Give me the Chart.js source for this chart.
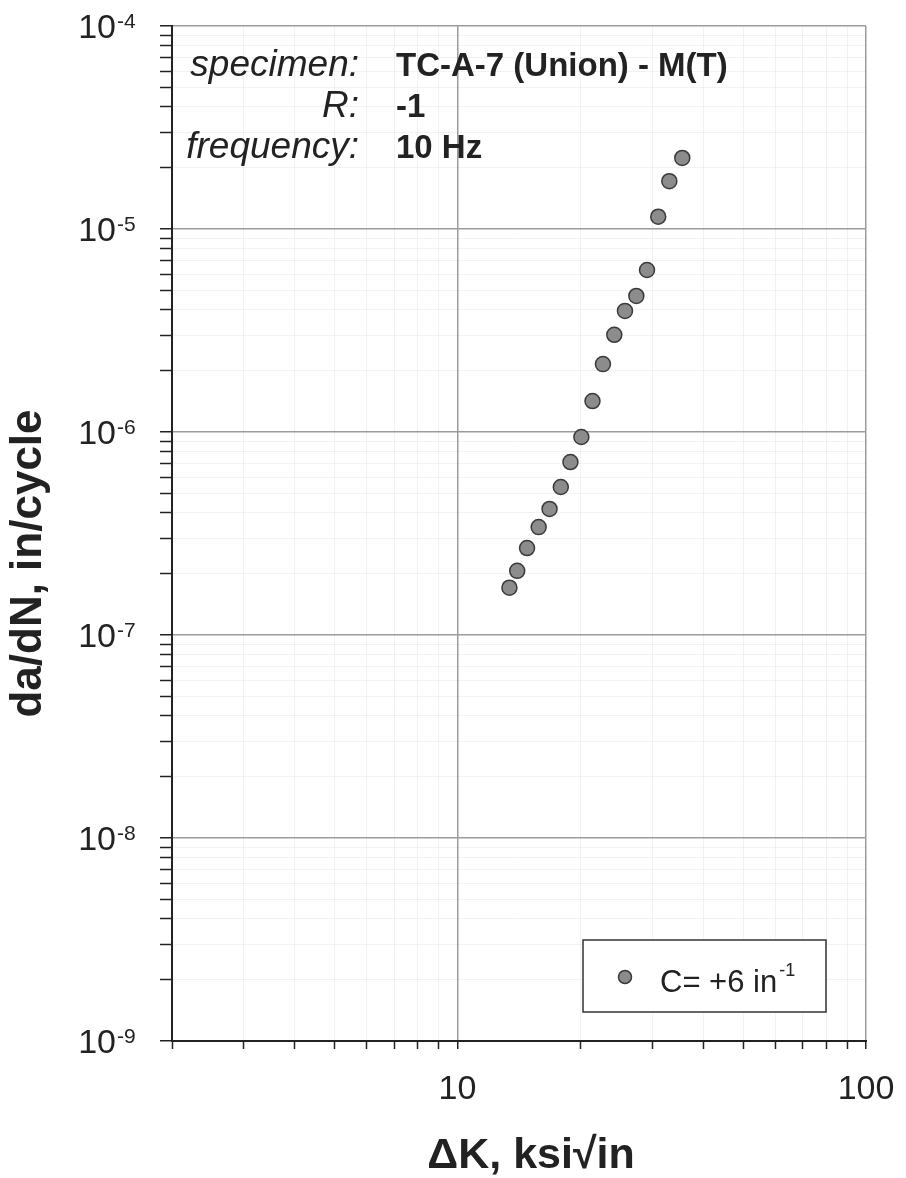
<!DOCTYPE html>
<html>
<head>
<meta charset="utf-8">
<title>da/dN vs delta K</title>
<script src="https://cdn.jsdelivr.net/npm/chart.js@4.4.0/dist/chart.umd.min.js"></script>
<style>
  html, body { margin: 0; padding: 0; background: #fff; }
  #wrap { position: relative; width: 906px; height: 1178px; }
</style>
</head>
<body>
<div id="wrap"><canvas id="crackChart"></canvas></div>
<script>
'use strict';
// values
var deltaK = [13.4, 14.0, 14.8, 15.8, 16.8, 17.9, 18.9, 20.1, 21.4, 22.7, 24.2, 25.7, 27.4, 29.1, 31.0, 33.0, 35.5];
var dadN = [1.71e-7, 2.07e-7, 2.68e-7, 3.40e-7, 4.18e-7, 5.36e-7, 7.11e-7, 9.45e-7, 1.42e-6, 2.16e-6, 3.01e-6, 3.95e-6, 4.68e-6, 6.28e-6, 1.15e-5, 1.72e-5, 2.24e-5];
var seriesLabel = 'C= +6 in';
var seriesLabelSup = '-1';
var xTickLabels = [10, 100];
var yTickExponents = [-9, -8, -7, -6, -5, -4];
var xRange = [2, 100];
var yRange = [1e-9, 1e-4];
var infoLabels = ['specimen:', 'R:', 'frequency:'];
var infoValues = ['TC-A-7 (Union) - M(T)', '-1', '10 Hz'];
var xTitle = 'ΔK, ksi√in';
var yTitle = 'da/dN, in/cycle';

var FONT = '"Liberation Sans", Arial, sans-serif';
var INK = '#222';
Chart.defaults.font.family = FONT;

// 1..9 x 10^n positions between min and max
function logTicks(min, max) {
  var list = [];
  for (var e = Math.floor(Math.log10(min)); Math.pow(10, e) <= max; e++) {
    for (var m = 1; m < 10; m++) {
      var v = parseFloat((m * Math.pow(10, e)).toPrecision(6));
      if (v >= min && v <= max) list.push(v);
    }
  }
  return list;
}
function isDecade(v) {
  var l = Math.log10(v);
  return Math.abs(l - Math.round(l)) < 1e-9;
}
function gridColor(ctx) {
  if (!ctx.tick) return 'rgba(0,0,0,0.05)';
  return isDecade(ctx.tick.value) ? '#9c9c9c' : 'rgba(0,0,0,0.05)';
}
function gridWidth(ctx) {
  return ctx.tick && isDecade(ctx.tick.value) ? 1.5 : 1;
}

var points = [];
for (var i = 0; i < deltaK.length; i++) {
  points.push({ x: deltaK[i], y: dadN[i] });
}

// labels with superscripts, titles, info block and legend box
var decorPlugin = {
  id: 'decor',
  afterDatasetsDraw: function(chart) {
    var ctx = chart.ctx;
    var area = chart.chartArea;
    var ds = chart.data.datasets[0];
    var bx = area.right - 283, by = area.bottom - 101, bw = 243, bh = 72;
    ctx.save();
    ctx.fillStyle = '#fff';
    ctx.fillRect(bx, by, bw, bh);
    ctx.strokeStyle = '#333';
    ctx.lineWidth = 1.5;
    ctx.strokeRect(bx, by, bw, bh);
    ctx.beginPath();
    ctx.arc(bx + 42, by + 37, 6.5, 0, Math.PI * 2);
    ctx.fillStyle = ds.backgroundColor;
    ctx.fill();
    ctx.lineWidth = ds.borderWidth;
    ctx.strokeStyle = ds.borderColor;
    ctx.stroke();
    ctx.fillStyle = INK;
    ctx.textAlign = 'left';
    ctx.textBaseline = 'alphabetic';
    ctx.font = '31px ' + FONT;
    ctx.fillText(seriesLabel, bx + 77, by + 52);
    var w = ctx.measureText(seriesLabel).width;
    ctx.font = '18px ' + FONT;
    ctx.fillText(seriesLabelSup, bx + 79 + w, by + 36);
    ctx.restore();
  },
  afterDraw: function(chart) {
    var ctx = chart.ctx;
    var area = chart.chartArea;
    var ys = chart.scales.y;
    ctx.save();
    ctx.fillStyle = INK;
    ctx.textBaseline = 'alphabetic';

    // y tick labels 10^n
    yTickExponents.forEach(function(p) {
      var py = ys.getPixelForValue(Math.pow(10, p));
      ctx.font = '34px ' + FONT;
      ctx.textAlign = 'right';
      ctx.fillText('10', area.left - 56, py + 12);
      ctx.font = '21px ' + FONT;
      ctx.textAlign = 'left';
      ctx.fillText(String(p), area.left - 55, py + 2);
    });

    // axis titles
    ctx.font = 'bold 43px ' + FONT;
    ctx.textAlign = 'center';
    ctx.fillText(xTitle, (area.left + area.right) / 2 + 12, chart.height - 10);
    ctx.font = 'bold 44px ' + FONT;
    ctx.save();
    ctx.translate(41, (area.top + area.bottom) / 2 + 30);
    ctx.rotate(-Math.PI / 2);
    ctx.fillText(yTitle, 0, 0);
    ctx.restore();

    // info block
    for (var k = 0; k < infoLabels.length; k++) {
      var base = area.top + 50 + k * 41;
      ctx.font = 'italic 37px ' + FONT;
      ctx.textAlign = 'right';
      ctx.fillText(infoLabels[k], area.left + 187, base);
      ctx.font = 'bold 33px ' + FONT;
      ctx.textAlign = 'left';
      ctx.fillText(infoValues[k], area.left + 224, base);
    }
    ctx.restore();
  }
};

var chart = new Chart(document.getElementById('crackChart').getContext('2d'), {
  type: 'scatter',
  data: {
    datasets: [{
      label: seriesLabel + seriesLabelSup,
      data: points,
      pointRadius: 7.5,
      pointHoverRadius: 7.5,
      backgroundColor: '#8c8c8c',
      borderColor: '#3a3a3a',
      borderWidth: 1.5
    }]
  },
  options: {
    responsive: true,
    maintainAspectRatio: false,
    animation: false,
    layout: { padding: { left: 0, top: 26, right: 40, bottom: 0 } },
    plugins: {
      legend: { display: false },
      tooltip: { enabled: false }
    },
    scales: {
      x: {
        type: 'logarithmic',
        min: xRange[0],
        max: xRange[1],
        afterBuildTicks: function(scale) {
          scale.ticks = logTicks(xRange[0], xRange[1]).map(function(v) {
            return { value: v, major: isDecade(v) };
          });
        },
        afterFit: function(scale) {
          scale.height = 137;
          scale.paddingLeft = 0;
          scale.paddingRight = 0;
        },
        border: { color: INK, width: 2 },
        grid: { color: gridColor, lineWidth: gridWidth, tickColor: INK, tickLength: 8, tickWidth: 1.5 },
        ticks: {
          autoSkip: false,
          maxRotation: 0,
          padding: 20,
          color: INK,
          font: { size: 34 },
          callback: function(v) { return xTickLabels.indexOf(v) >= 0 ? String(v) : ''; }
        }
      },
      y: {
        type: 'logarithmic',
        min: yRange[0],
        max: yRange[1],
        afterBuildTicks: function(scale) {
          scale.ticks = logTicks(yRange[0], yRange[1]).map(function(v) {
            return { value: v, major: isDecade(v) };
          });
        },
        afterFit: function(scale) {
          scale.width = 172;
          scale.paddingTop = 0;
          scale.paddingBottom = 0;
        },
        border: { color: INK, width: 2 },
        grid: { color: gridColor, lineWidth: gridWidth, tickColor: INK, tickLength: 12, tickWidth: 1.5 },
        ticks: {
          autoSkip: false,
          callback: function() { return ''; }
        }
      }
    }
  },
  plugins: [decorPlugin]
});
</script>
</body>
</html>
